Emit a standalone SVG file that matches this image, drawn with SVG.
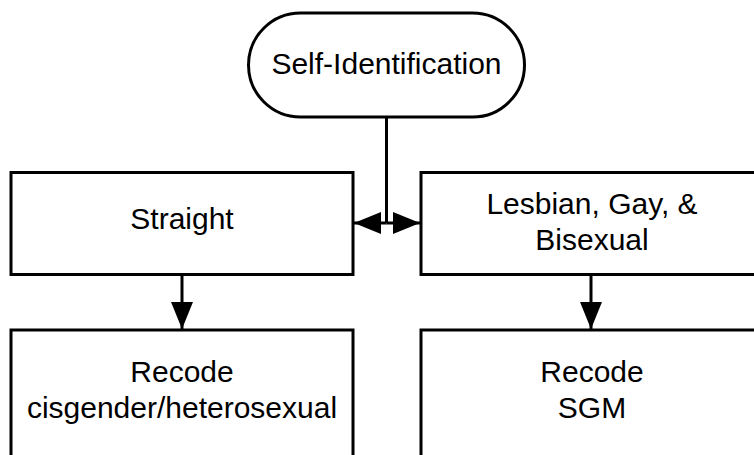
<svg xmlns="http://www.w3.org/2000/svg" width="754" height="455" viewBox="0 0 754 455">
<defs>
<style>
.box{fill:#fff;stroke:#000;stroke-width:3}
.lbl{font-family:"Liberation Sans",Arial,sans-serif;font-size:30px;fill:#000;text-anchor:middle}
.con{fill:none;stroke:#000;stroke-width:3}
</style>
<marker id="arr" markerUnits="userSpaceOnUse" viewBox="0 0 27 22" refX="27" refY="11" markerWidth="27" markerHeight="22" orient="auto">
<path d="M0,0 L27,11 L0,22 Z" fill="#000"/>
</marker>
</defs>
<g id="connectors">
<path class="con" d="M386.5,117 L386.5,223"/>
<path class="con" d="M386.5,223 L354,223" marker-end="url(#arr)"/>
<path class="con" d="M386.5,223 L420,223" marker-end="url(#arr)"/>
<path class="con" d="M182,275 L182,329" marker-end="url(#arr)"/>
<path class="con" d="M591,275 L591,329" marker-end="url(#arr)"/>
</g>
<g id="self-identification">
<rect class="box" x="248.5" y="13" width="276" height="104" rx="52" ry="52"/>
<text class="lbl" x="386.5" y="74">Self-Identification</text>
</g>
<g id="straight">
<rect class="box" x="11" y="172.5" width="342" height="102"/>
<text class="lbl" x="182" y="228.5">Straight</text>
</g>
<g id="lgb">
<rect class="box" x="421" y="172.5" width="342" height="102"/>
<text class="lbl" x="592" y="213.5">Lesbian, Gay, &amp;</text>
<text class="lbl" x="592" y="250">Bisexual</text>
</g>
<g id="recode-cis">
<rect class="box" x="11" y="330" width="342" height="140"/>
<text class="lbl" x="182" y="381.5">Recode</text>
<text class="lbl" x="182" y="418">cisgender/heterosexual</text>
</g>
<g id="recode-sgm">
<rect class="box" x="421" y="330" width="342" height="140"/>
<text class="lbl" x="592" y="381.5">Recode</text>
<text class="lbl" x="592" y="418">SGM</text>
</g>
</svg>
